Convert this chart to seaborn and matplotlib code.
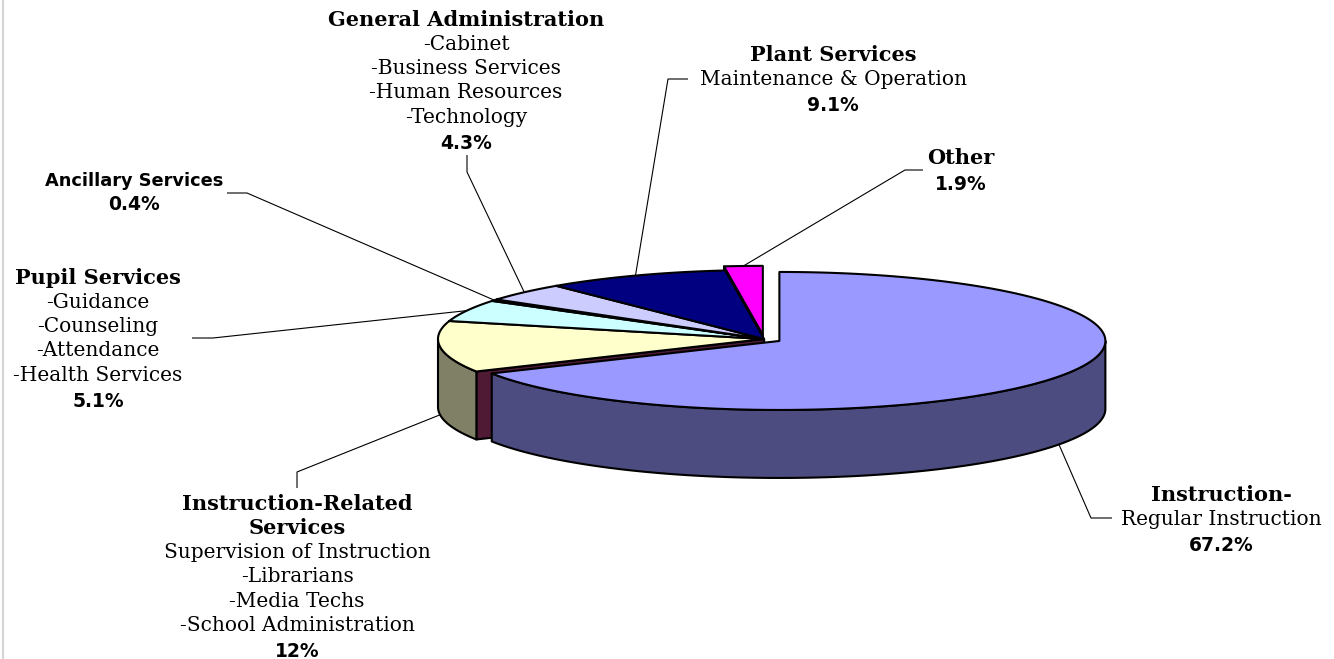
# 3D-style pie chart of expenditure shares, drawn on a pixel-scaled axes
import numpy as np
import seaborn as sns
import matplotlib.pyplot as plt
from matplotlib.patches import Polygon
from matplotlib.lines import Line2D

categories = ["Instruction", "Instruction-Related Services", "Pupil Services",
              "Ancillary Services", "General Administration", "Plant Services", "Other"]
shares = [67.2, 12, 5.1, 0.4, 4.3, 9.1, 1.9]
pct_labels = ["67.2%", "12%", "5.1%", "0.4%", "4.3%", "9.1%", "1.9%"]
titles = [["Instruction-"], ["Instruction-Related", "Services"], ["Pupil Services"],
          ["Ancillary Services"], ["General Administration"], ["Plant Services"], ["Other"]]
details = [["Regular Instruction"],
           ["Supervision of Instruction", "-Librarians", "-Media Techs", "-School Administration"],
           ["-Guidance", "-Counseling", "-Attendance", "-Health Services"],
           [],
           ["-Cabinet", "-Business Services", "-Human Resources", "-Technology"],
           ["Maintenance & Operation"],
           []]
title_sans = [False, False, False, True, False, False, False]

top_colors = ["#9999FF", "#FFFFCC", "#CCFFFF", "#660066", "#CCCCFF", "#000080", "#FF00FF"]
side_colors = ["#4C4C80", "#808066", "#668080", "#330033", "#666680", "#000040", "#800080"]
face_colors = ["#4C4C80", "#4F1A33", "#668080", "#330033", "#666680", "#000040", "#800080"]
explode = [0.055, 0, 0, 0, 0, 0, 0.06]

# layout of the pie (pixel units)
cx, cy, rx, ry, depth = 764, 339, 326, 69, 68

# label layout: centre x, first line y, leader elbow, leader end
label_pos = [(1221, 495), (297, 504), (98, 278), (134, 181), (466, 20), (833, 55), (961, 158)]
leader_pts = [[(1091, 518), (1112, 518)],
              [(297, 472), (297, 488)],
              [(213, 338), (192, 338)],
              [(247, 193), (227, 193)],
              [(467, 172), (467, 155)],
              [(668, 79), (688, 79)],
              [(905, 170), (923, 170)]]

sns.set_theme(style="white")
SERIF = "DejaVu Serif"
SANS = "DejaVu Sans"

fig = plt.figure(figsize=(13.34, 6.59), dpi=100)
ax = fig.add_axes([0, 0, 1, 1])
ax.set_xlim(0, 1334)
ax.set_ylim(659, 0)
ax.axis("off")

vals = np.array(shares, dtype=float)
ends = np.cumsum(vals) / vals.sum() * 360
starts = np.concatenate([[0], ends[:-1]])


def rim(theta, ox, oy, dz=0):
    t = np.radians(theta)
    return cx + ox + rx * np.sin(t), cy + oy - ry * np.cos(t) + dz


slices = []
for i in range(len(vals)):
    mid = np.radians((starts[i] + ends[i]) / 2)
    ox = explode[i] * rx * np.sin(mid)
    oy = -explode[i] * ry * np.cos(mid)
    slices.append((starts[i], ends[i], ox, oy))

EDGE = dict(ec="black", lw=1.5, joinstyle="round")

# radial faces (only the ones turned towards the viewer), back to front
faces = []
for i, (a, b, ox, oy) in enumerate(slices):
    if np.sin(np.radians(a)) < -1e-9:
        faces.append((np.cos(np.radians(a)), i, a))
    if np.sin(np.radians(b)) > 1e-9:
        faces.append((np.cos(np.radians(b)), i, b))
for _, i, th in sorted(faces, reverse=True):
    a, b, ox, oy = slices[i]
    px, py = rim(th, ox, oy)
    pts = [(cx + ox, cy + oy), (px, py), (px, py + depth), (cx + ox, cy + oy + depth)]
    ax.add_patch(Polygon(pts, closed=True, fc=face_colors[i], **EDGE))

# outer walls on the front half
for i, (a, b, ox, oy) in enumerate(slices):
    lo, hi = max(a, 90), min(b, 270)
    if hi <= lo:
        continue
    th = np.linspace(lo, hi, 120)
    xs, ys = rim(th, ox, oy)
    pts = list(zip(xs, ys)) + list(zip(xs[::-1], ys[::-1] + depth))
    ax.add_patch(Polygon(pts, closed=True, fc=side_colors[i], **EDGE))

# top faces
for i, (a, b, ox, oy) in enumerate(slices):
    th = np.linspace(a, b, max(int((b - a) * 2), 4))
    xs, ys = rim(th, ox, oy)
    pts = [(cx + ox, cy + oy)] + list(zip(xs, ys))
    ax.add_patch(Polygon(pts, closed=True, fc=top_colors[i], **EDGE))

# leader lines and labels
line_h = 24.3
for i, (a, b, ox, oy) in enumerate(slices):
    m = (a + b) / 2
    front = np.cos(np.radians(m)) < 0
    ax_, ay_ = rim(m, ox, oy, depth if front else 0)
    (ex, ey), (fx, fy) = leader_pts[i]
    ax.plot([ax_, ex, fx], [ay_, ey, fy], color="black", lw=0.8, solid_capstyle="butt")

    lx, ly = label_pos[i]
    y = ly
    for t in titles[i]:
        if title_sans[i]:
            ax.text(lx, y, t, ha="center", va="center", fontsize=12.8, fontweight="bold",
                    family=SANS, color="black")
            y += 22
        else:
            ax.text(lx, y, t, ha="center", va="center", fontsize=15, fontweight="bold",
                    family=SERIF, color="black")
            y += line_h
    for t in details[i]:
        ax.text(lx, y, t, ha="center", va="center", fontsize=14.5, family=SERIF, color="black")
        y += line_h
    ax.text(lx, y + 2, pct_labels[i], ha="center", va="center", fontsize=13.5,
            fontweight="bold", family=SANS, color="black")

# thin frame edge on the left
fig.add_artist(Line2D([0.002, 0.002], [0, 1], color="#d4d4d4", lw=1.5))

plt.savefig("out.png", dpi=100)
